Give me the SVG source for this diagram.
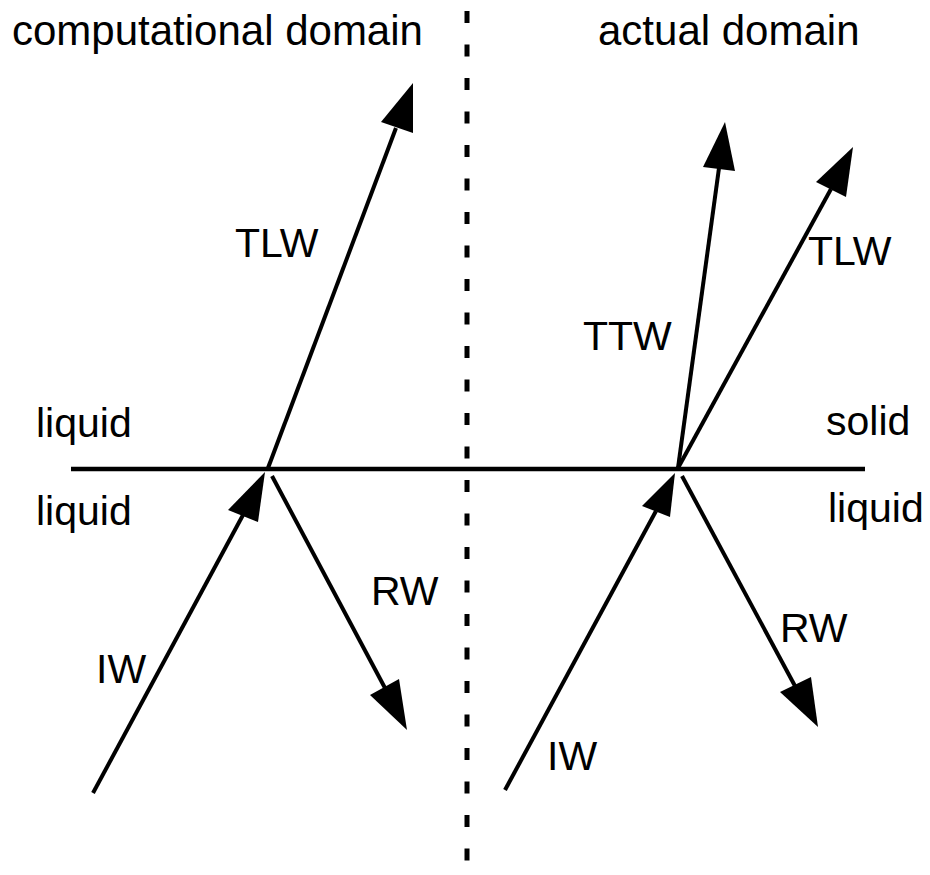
<svg xmlns="http://www.w3.org/2000/svg" width="930" height="875" viewBox="0 0 930 875">
  <style>
    .lbl { font-family: "Liberation Sans", Arial, sans-serif; font-size: 41px; fill: #000; }
    .title { font-size: 42px; }
    .shaft { stroke: #000; stroke-width: 4; fill: none; stroke-linecap: butt; }
    .head { fill: #000; stroke: none; }
  </style>
  <rect width="930" height="875" fill="#fff"/>

  <!-- domain titles -->
  <g id="titles">
    <text class="lbl title" x="12" y="45">computational domain</text>
    <text class="lbl title" x="598" y="45">actual domain</text>
  </g>

  <!-- interface and domain separator -->
  <g id="interface">
    <line x1="71" y1="469" x2="865" y2="469" stroke="#000" stroke-width="4.5"/>
  </g>
  <g id="separator">
    <line x1="467" y1="11" x2="467" y2="875" stroke="#000" stroke-width="5" stroke-dasharray="12 21.5"/>
  </g>

  <!-- medium labels -->
  <g id="media">
    <text class="lbl" x="36" y="437">liquid</text>
    <text class="lbl" x="36" y="525">liquid</text>
    <text class="lbl" x="826" y="435">solid</text>
    <text class="lbl" x="828" y="522">liquid</text>
  </g>

  <!-- wave arrows -->
  <g id="connectors">
    <!-- left: transmitted longitudinal wave -->
    <line class="shaft" x1="268" y1="468" x2="396" y2="128"/>
    <polygon class="head" points="413,83 381,122 413,133"/>
    <!-- left: incident wave -->
    <line class="shaft" x1="93" y1="793" x2="243" y2="515"/>
    <polygon class="head" points="265,472 228,510 258,522"/>
    <!-- left: reflected wave -->
    <line class="shaft" x1="272" y1="476" x2="385" y2="688"/>
    <polygon class="head" points="407,730 370,695 399,679"/>

    <!-- right: transmitted transverse wave -->
    <line class="shaft" x1="678" y1="468" x2="719" y2="168"/>
    <polygon class="head" points="725,122 703,167 735,171"/>
    <!-- right: transmitted longitudinal wave -->
    <line class="shaft" x1="678" y1="468" x2="831" y2="189"/>
    <polygon class="head" points="853,147 816,182 846,197"/>
    <!-- right: incident wave -->
    <line class="shaft" x1="505" y1="790" x2="656" y2="511"/>
    <polygon class="head" points="675,473 642,506 670,517"/>
    <!-- right: reflected wave -->
    <line class="shaft" x1="682" y1="476" x2="795" y2="686"/>
    <polygon class="head" points="818,727 780,692 811,677"/>
  </g>

  <!-- wave labels -->
  <g id="wave-labels">
    <text class="lbl" x="235" y="257">TLW</text>
    <text class="lbl" x="371" y="605">RW</text>
    <text class="lbl" x="96" y="683">IW</text>
    <text class="lbl" x="583" y="350">TTW</text>
    <text class="lbl" x="808" y="265">TLW</text>
    <text class="lbl" x="780" y="642">RW</text>
    <text class="lbl" x="547" y="770">IW</text>
  </g>
</svg>
